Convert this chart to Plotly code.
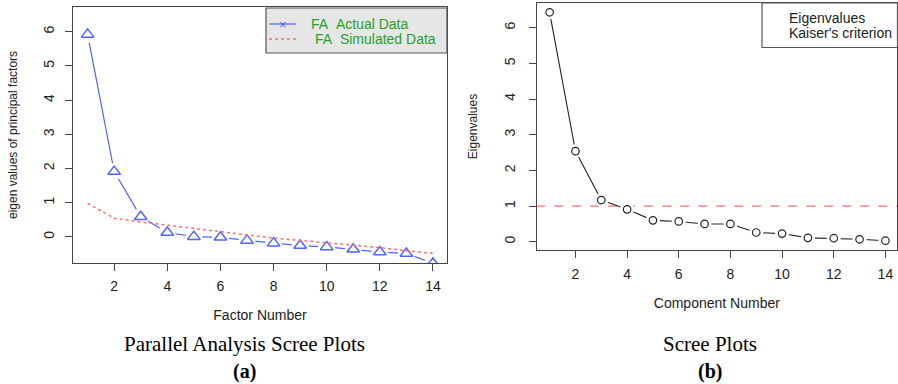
import plotly.graph_objects as go

W, H = 898, 384

# ---- data ----
factor_num = list(range(1, 15))
fa_actual = [5.92, 1.91, 0.59, 0.13, 0.01, -0.01, -0.10, -0.18, -0.25, -0.29, -0.36, -0.44, -0.48, -0.77]
fa_simulated = [0.98, 0.55, 0.44, 0.34, 0.24, 0.15, 0.06, -0.03, -0.10, -0.16, -0.24, -0.31, -0.40, -0.48]

component_num = list(range(1, 15))
eigenvalues = [6.43, 2.54, 1.17, 0.91, 0.60, 0.57, 0.50, 0.50, 0.26, 0.23, 0.11, 0.10, 0.07, 0.03]
kaiser = 1.0

x_ticks = [2, 4, 6, 8, 10, 12, 14]
y_ticks = [0, 1, 2, 3, 4, 5, 6]

BLUE = "rgb(80,100,255)"
RED = "rgb(255,110,110)"
GREEN = "rgb(40,160,40)"
DARK = "#222"
AX = "#444"
FONT = "Liberation Sans, Arial, sans-serif"
SERIF = "Liberation Serif, Times New Roman, serif"
NB = "\u00a0"


def px(x):
    return x / W


def py(y):
    return 1 - y / H


fig = go.Figure()

# ---- left panel ----
fig.add_trace(go.Scatter(x=factor_num, y=fa_actual, mode="lines",
                         line=dict(color=BLUE, width=1.2), xaxis="x", yaxis="y",
                         showlegend=False, hoverinfo="skip"))
fig.add_trace(go.Scatter(x=factor_num, y=fa_actual, mode="markers",
                         marker=dict(symbol="circle", size=17, color="white"),
                         xaxis="x", yaxis="y", showlegend=False, hoverinfo="skip"))
fig.add_trace(go.Scatter(x=factor_num, y=fa_actual, mode="markers", name="FA  Actual Data",
                         marker=dict(symbol="triangle-up-open", size=11, color=BLUE,
                                     line=dict(width=1.5, color=BLUE)),
                         xaxis="x", yaxis="y", showlegend=False))
fig.add_trace(go.Scatter(x=factor_num, y=fa_simulated, mode="lines", name="FA  Simulated Data",
                         line=dict(color=RED, width=1.5, dash="dot"),
                         xaxis="x", yaxis="y", showlegend=False))

# ---- right panel ----
fig.add_trace(go.Scatter(x=[0.48, 14.5], y=[kaiser, kaiser], mode="lines", name="Kaiser's criterion",
                         line=dict(color=RED, width=1.3, dash="dash"),
                         xaxis="x2", yaxis="y2", showlegend=False))
fig.add_trace(go.Scatter(x=component_num, y=eigenvalues, mode="lines",
                         line=dict(color=DARK, width=1.1), xaxis="x2", yaxis="y2",
                         showlegend=False, hoverinfo="skip"))
fig.add_trace(go.Scatter(x=component_num, y=eigenvalues, mode="markers",
                         marker=dict(symbol="circle", size=14, color="white"),
                         xaxis="x2", yaxis="y2", showlegend=False, hoverinfo="skip"))
fig.add_trace(go.Scatter(x=component_num, y=eigenvalues, mode="markers", name="Eigenvalues",
                         marker=dict(symbol="circle-open", size=7.5, color=DARK,
                                     line=dict(width=1.2, color=DARK)),
                         xaxis="x2", yaxis="y2", showlegend=False))

axis_common = dict(showgrid=False, zeroline=False, showline=True, mirror=True,
                   linecolor=AX, linewidth=1.2, ticks="outside", ticklen=7,
                   tickcolor=AX, tickwidth=1.2)
xfont = dict(family=FONT, size=14, color=DARK)
yfont = dict(family=FONT, size=14, color=DARK)

fig.update_layout(
    width=W, height=H, margin=dict(l=0, r=0, t=0, b=0),
    paper_bgcolor="white", plot_bgcolor="white",
    font=dict(family=FONT, size=14, color=DARK),
    xaxis=dict(domain=[px(73), px(447)], anchor="y", range=[0.45, 14.53], tickvals=x_ticks,
               tickfont=xfont, ticklabelstandoff=3,
               title=dict(text="Factor Number", standoff=17, font=dict(size=14)), **axis_common),
    yaxis=dict(domain=[py(263), py(7)], anchor="x", range=[-0.76, 6.72], tickvals=y_ticks,
               tickangle=-90, tickfont=yfont, ticklabelstandoff=5,
               title=dict(text="eigen values of principal factors", standoff=21, font=dict(size=12)),
               **axis_common),
    xaxis2=dict(domain=[px(536.7), px(897)], anchor="y2", range=[0.5, 14.45], tickvals=x_ticks,
                tickfont=xfont, ticklabelstandoff=4,
                title=dict(text="Component Number", standoff=17, font=dict(size=14)), **axis_common),
    yaxis2=dict(domain=[py(250), py(3)], anchor="x2", range=[-0.23, 6.69], tickvals=y_ticks,
                tickangle=-90, tickfont=yfont, ticklabelstandoff=8,
                title=dict(text="Eigenvalues", standoff=21, font=dict(size=12)), **axis_common),
)

shapes = []
annotations = []

# left legend box
shapes.append(dict(type="rect", xref="paper", yref="paper", x0=px(266), x1=px(447), y0=py(53), y1=py(8),
                   fillcolor="#e6e6e6", line=dict(color="#555", width=1.2), layer="above"))
shapes.append(dict(type="line", xref="paper", yref="paper", x0=px(269), x1=px(296), y0=py(24), y1=py(24),
                   line=dict(color=BLUE, width=1.2), layer="above"))
shapes.append(dict(type="line", xref="paper", yref="paper", x0=px(269), x1=px(296), y0=py(39), y1=py(39),
                   line=dict(color=RED, width=1.5, dash="dot"), layer="above"))
annotations.append(dict(text="×", xref="paper", yref="paper", x=px(282.5), y=py(24), showarrow=False,
                        font=dict(family=FONT, size=13, color=BLUE), xanchor="center", yanchor="middle"))
annotations.append(dict(text="FA" + NB + NB + "Actual Data", xref="paper", yref="paper", x=px(309), y=py(24),
                        showarrow=False, xanchor="left", yanchor="middle",
                        font=dict(family=FONT, size=14, color=GREEN)))
annotations.append(dict(text="FA" + NB + NB + "Simulated Data", xref="paper", yref="paper", x=px(313), y=py(39),
                        showarrow=False, xanchor="left", yanchor="middle",
                        font=dict(family=FONT, size=14, color=GREEN)))

# right legend box
shapes.append(dict(type="rect", xref="paper", yref="paper", x0=px(762), x1=px(897.5), y0=py(47.5), y1=py(3),
                   fillcolor="white", line=dict(color="#555", width=1.2), layer="above"))
annotations.append(dict(text="Eigenvalues", xref="paper", yref="paper", x=px(787), y=py(18),
                        showarrow=False, xanchor="left", yanchor="middle",
                        font=dict(family=FONT, size=14, color=DARK)))
annotations.append(dict(text="Kaiser's criterion", xref="paper", yref="paper", x=px(787), y=py(33),
                        showarrow=False, xanchor="left", yanchor="middle",
                        font=dict(family=FONT, size=14, color=DARK)))

# captions
annotations.append(dict(text="Parallel Analysis Scree Plots", xref="paper", yref="paper", x=px(245), y=py(344),
                        showarrow=False, xanchor="center", yanchor="middle",
                        font=dict(family=SERIF, size=21, color="black")))
annotations.append(dict(text="<b>(a)</b>", xref="paper", yref="paper", x=px(245), y=py(371),
                        showarrow=False, xanchor="center", yanchor="middle",
                        font=dict(family=SERIF, size=20, color="black")))
annotations.append(dict(text="Scree Plots", xref="paper", yref="paper", x=px(710), y=py(344),
                        showarrow=False, xanchor="center", yanchor="middle",
                        font=dict(family=SERIF, size=21, color="black")))
annotations.append(dict(text="<b>(b)</b>", xref="paper", yref="paper", x=px(710), y=py(371),
                        showarrow=False, xanchor="center", yanchor="middle",
                        font=dict(family=SERIF, size=20, color="black")))

fig.update_layout(shapes=shapes, annotations=annotations)
fig.write_html("out.html", config={"displayModeBar": False},
               post_script="document.body.style.margin='0';document.body.style.padding='0';"
                           "document.body.style.overflow='hidden';")
